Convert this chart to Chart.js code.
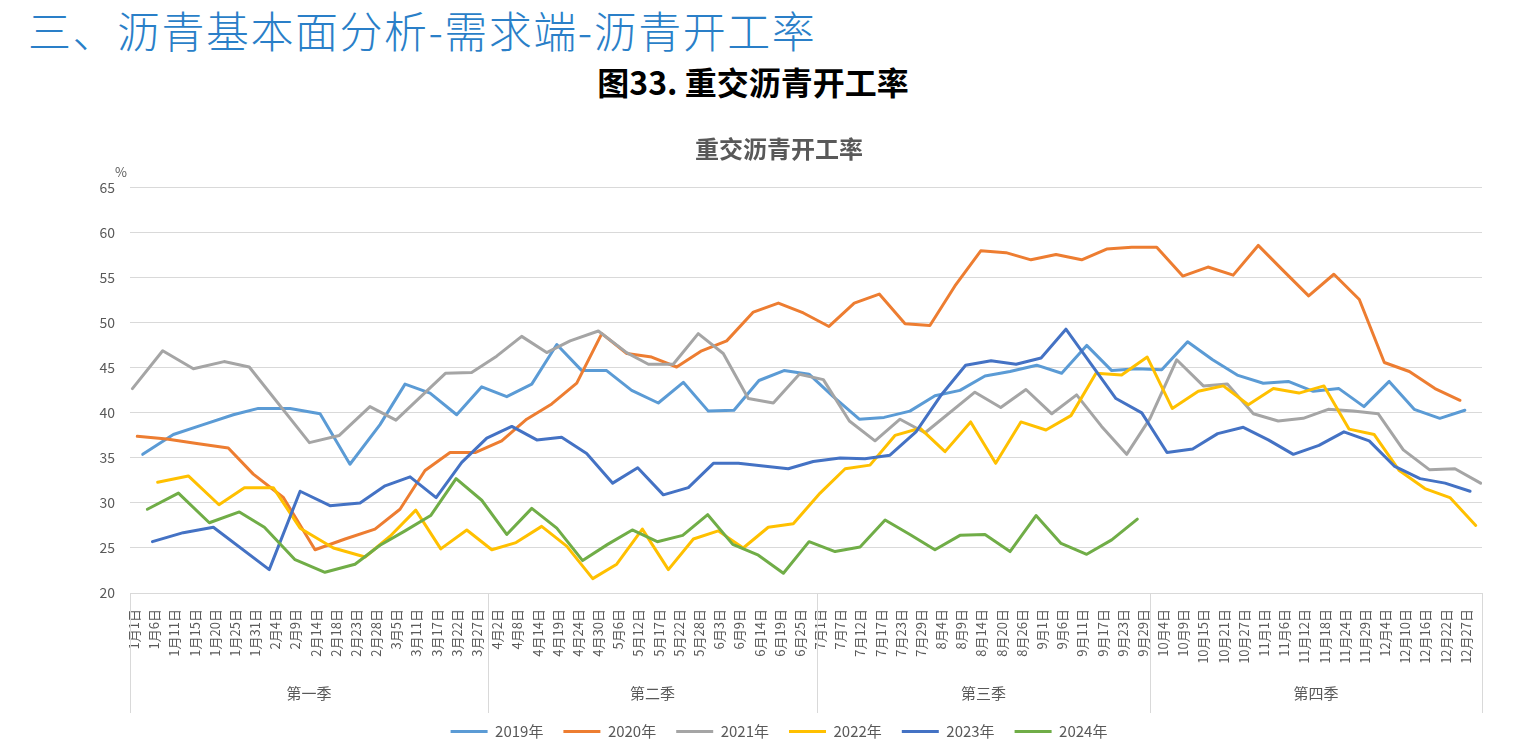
<!DOCTYPE html>
<html>
<head>
<meta charset="utf-8">
<script src="https://cdn.jsdelivr.net/npm/chart.js@4.4.0/dist/chart.umd.min.js"></script>
<style>
  body { margin: 0; background: #fff; width: 1519px; height: 749px; overflow: hidden; position: relative; font-family: 'Noto Sans CJK SC', 'Noto Sans', sans-serif; }
  #pageTitle { position: absolute; left: 28px; top: 8px; margin: 0; font-size: 43px; letter-spacing: 1.5px; line-height: 1; font-weight: 300; color: #2a7fc8; white-space: nowrap; }
  #figTitle { position: absolute; left: 0; width: 1506px; top: 65px; margin: 0; text-align: center; font-size: 32px; line-height: 1; font-weight: bold; color: #000; white-space: nowrap; }
  #wrap { position: absolute; left: 0; top: 120px; width: 1519px; height: 629px; }
</style>
</head>
<body>
<h1 id="pageTitle">三、沥青基本面分析-需求端-沥青开工率</h1>
<h2 id="figTitle">图33. 重交沥青开工率</h2>
<div id="wrap"><canvas id="asphaltChart"></canvas></div>
<script>
// tick labels of the date axis (one per label slot)
const dateLabels = ["1月1日","1月6日","1月11日","1月15日","1月20日","1月25日","1月31日","2月4日","2月9日","2月14日","2月18日","2月23日","2月28日","3月5日","3月11日","3月17日","3月22日","3月27日",
  "4月2日","4月8日","4月14日","4月19日","4月24日","4月30日","5月6日","5月12日","5月17日","5月22日","5月28日","6月3日","6月9日","6月14日","6月19日","6月25日",
  "7月1日","7月7日","7月12日","7月17日","7月23日","7月29日","8月4日","8月9日","8月14日","8月20日","8月26日","9月1日","9月6日","9月11日","9月17日","9月23日","9月29日",
  "10月4日","10月9日","10月15日","10月21日","10月27日","11月1日","11月6日","11月12日","11月18日","11月24日","11月29日","12月4日","12月10日","12月16日","12月22日","12月27日"];
const quarterNames = ["第一季","第二季","第三季","第四季"];
const quarterBreaks = [17.54, 33.85, 50.35];

const years = ["2019年","2020年","2021年","2022年","2023年","2024年"];
const colors = ["#5b9bd5","#ed7d31","#a5a5a5","#ffc000","#4472c4","#70ad47"];

// x = position on the date axis (label slots), y = operating rate %
const x2019 = [0.43,1.95,3.43,4.92,6.16,7.73,9.22,10.70,12.19,13.43,14.67,15.99,17.23,18.47,19.71,20.95,22.19,23.42,24.66,25.98,27.22,28.46,29.73,30.97,32.21,33.45,34.65,35.94,37.17,38.45,39.69,40.93,42.17,43.41,44.73,45.97,47.21,48.45,49.69,50.93,52.21,53.45,54.67,55.96,57.20,58.44,59.71,60.95,62.20,63.44,64.71,65.95];
const y2019 = [35.4,37.6,38.7,39.8,40.5,40.5,39.9,34.3,38.7,43.2,42.2,39.8,42.9,41.8,43.2,47.6,44.7,44.7,42.5,41.1,43.4,40.2,40.3,43.6,44.7,44.3,41.8,39.3,39.5,40.2,41.9,42.5,44.1,44.6,45.3,44.4,47.5,44.7,44.9,44.8,47.9,45.9,44.2,43.3,43.5,42.4,42.7,40.7,43.5,40.4,39.4,40.3];

const x2020 = [0.16,1.62,3.11,4.67,5.91,7.40,8.97,10.46,11.94,13.18,14.42,15.66,16.90,18.22,19.46,20.70,21.94,23.18,24.42,25.65,26.89,28.13,29.37,30.69,31.93,33.17,34.44,35.69,36.93,38.21,39.44,40.68,41.96,43.21,44.45,45.69,46.96,48.20,49.44,50.68,51.97,53.22,54.47,55.71,56.95,58.21,59.46,60.72,61.96,63.20,64.47,65.71];
const y2020 = [37.4,37.1,36.6,36.1,33.2,30.6,24.8,26.0,27.1,29.3,33.6,35.6,35.6,36.9,39.3,41.0,43.3,48.8,46.6,46.2,45.1,46.9,48.0,51.2,52.2,51.1,49.6,52.2,53.2,49.9,49.7,54.1,58.0,57.8,57.0,57.6,57.0,58.2,58.4,58.4,55.2,56.2,55.3,58.6,55.8,53.0,55.4,52.6,45.6,44.6,42.7,41.4];

const x2021 = [-0.08,1.42,2.94,4.46,5.71,8.69,10.17,11.69,12.98,15.43,16.73,17.97,19.21,20.45,21.61,23.01,24.41,25.49,26.72,27.96,29.20,30.44,31.68,32.97,34.16,35.45,36.72,37.96,39.20,41.67,42.95,44.20,45.48,46.71,47.95,49.19,50.35,51.67,52.99,54.18,55.47,56.70,57.94,59.18,60.42,61.66,62.90,64.19,65.46,66.73];
const y2021 = [42.7,46.9,44.9,45.7,45.1,36.7,37.5,40.7,39.2,44.4,44.5,46.3,48.5,46.7,48.0,49.1,46.7,45.4,45.4,48.8,46.6,41.6,41.1,44.3,43.7,39.1,36.9,39.3,37.8,42.3,40.6,42.6,39.9,42.0,38.5,35.4,39.4,45.9,43.0,43.2,39.9,39.1,39.4,40.4,40.2,39.9,35.9,33.7,33.8,32.2];

const x2022 = [1.17,2.69,4.21,5.47,6.90,8.23,9.88,11.45,12.69,13.96,15.20,16.49,17.73,18.93,20.20,21.44,22.73,23.92,25.19,26.48,27.72,28.95,30.19,31.43,32.67,34.00,35.24,36.47,37.71,38.95,40.19,41.46,42.70,43.95,45.19,46.43,47.67,48.94,50.21,51.45,52.74,53.98,55.22,56.46,57.73,58.97,60.21,61.46,62.70,63.97,65.21,66.49];
const y2022 = [32.3,33.0,29.8,31.7,31.7,27.2,25.0,24.0,26.3,29.2,24.9,27.0,24.8,25.6,27.4,25.2,21.6,23.2,27.1,22.6,26.0,26.9,25.0,27.3,27.7,31.1,33.8,34.2,37.5,38.3,35.7,39.0,34.4,39.0,38.1,39.7,44.4,44.2,46.2,40.5,42.4,43.0,40.9,42.7,42.2,43.0,38.2,37.6,33.6,31.6,30.6,27.5];

const x2023 = [0.91,2.44,3.93,6.70,8.23,9.71,11.20,12.44,13.68,14.97,16.24,17.48,18.72,19.96,21.19,22.43,23.72,24.96,26.23,27.47,28.71,29.95,31.18,32.42,33.66,34.99,36.22,37.46,38.75,39.97,41.21,42.47,43.71,44.95,46.18,48.66,49.94,51.19,52.46,53.70,54.97,56.21,57.45,58.72,59.96,61.21,62.45,63.73,64.97,66.21];
const y2023 = [25.7,26.7,27.3,22.6,31.3,29.7,30.0,31.9,32.9,30.6,34.5,37.2,38.5,37.0,37.3,35.5,32.2,33.9,30.9,31.7,34.4,34.4,34.1,33.8,34.6,35.0,34.9,35.3,37.9,41.9,45.3,45.8,45.4,46.1,49.3,41.6,40.0,35.6,36.0,37.7,38.4,37.0,35.4,36.4,37.9,36.9,34.1,32.7,32.2,31.3];

const x2024 = [0.66,2.20,3.73,5.22,6.46,7.98,9.46,10.95,12.19,13.43,14.70,15.96,17.23,18.47,19.71,20.95,22.23,23.47,24.69,25.93,27.19,28.43,29.67,30.94,32.18,33.45,34.74,35.98,37.22,38.45,39.69,40.93,42.17,43.41,44.70,45.94,47.21,48.45,49.72];
const y2024 = [29.3,31.1,27.8,29.0,27.3,23.7,22.3,23.2,25.3,26.9,28.6,32.7,30.3,26.5,29.4,27.2,23.6,25.4,27.0,25.7,26.4,28.7,25.4,24.2,22.2,25.7,24.6,25.1,28.1,26.5,24.8,26.4,26.5,24.6,28.6,25.5,24.3,25.9,28.2];

const xs = [x2019, x2020, x2021, x2022, x2023, x2024];
const ys = [y2019, y2020, y2021, y2022, y2023, y2024];

const fontFamily = "'Noto Sans CJK SC', 'Noto Sans', sans-serif";
Chart.defaults.font.family = fontFamily;
Chart.defaults.color = "#595959";

// quarter grouping row under the date labels, plus the "%" unit
const quarterPlugin = {
    id: "quarters",
    afterDraw(chart){
        const {ctx, chartArea, scales} = chart;
        const x = scales.x;
        const edges = [chartArea.left, ...quarterBreaks.map(v => x.getPixelForValue(v)), chartArea.right];
        ctx.save();
        ctx.strokeStyle = "#d9d9d9";
        ctx.lineWidth = 1;
        edges.forEach(px => {
            const p = Math.round(px) + 0.5;
            ctx.beginPath();
            ctx.moveTo(p, chartArea.bottom);
            ctx.lineTo(p, chartArea.bottom + 120);
            ctx.stroke();
        });
        ctx.fillStyle = "#595959";
        ctx.textAlign = "center";
        ctx.textBaseline = "middle";
        ctx.font = "15px " + fontFamily;
        quarterNames.forEach((q, i) => {
            ctx.fillText(q, (edges[i] + edges[i+1]) / 2, chartArea.bottom + 100);
        });
        ctx.font = "13px " + fontFamily;
        ctx.fillText("%", chartArea.left - 9, chartArea.top - 16);
        ctx.restore();
    }
};

new Chart(document.getElementById("asphaltChart"), {
    type: "line",
    data: {
        datasets: years.map((name, i) => ({
            label: name,
            data: xs[i].map((p, j) => ({ x: p, y: ys[i][j] })),
            borderColor: colors[i],
            backgroundColor: colors[i],
            borderWidth: 3,
            borderJoinStyle: "round",
            borderCapStyle: "round",
            pointRadius: 0,
            pointHoverRadius: 0,
            tension: 0,
            fill: false,
            order: years.length - i
        }))
    },
    options: {
        responsive: true,
        maintainAspectRatio: false,
        animation: false,
        layout: { padding: { left: 76, right: 37, top: 0, bottom: 0 } },
        plugins: {
            title: {
                display: true,
                text: "重交沥青开工率",
                color: "#595959",
                font: { size: 24, weight: "bold" },
                padding: { top: 14, bottom: 25 }
            },
            legend: {
                position: "bottom",
                labels: {
                    usePointStyle: true,
                    pointStyle: "line",
                    pointStyleWidth: 37,
                    color: "#595959",
                    font: { size: 15 },
                    padding: 20,
                    sort: (a, b) => a.datasetIndex - b.datasetIndex
                }
            },
            tooltip: { enabled: false }
        },
        scales: {
            x: {
                type: "linear",
                min: -0.2,
                max: 66.8,
                afterBuildTicks: axis => { axis.ticks = dateLabels.map((_, i) => ({ value: i })); },
                afterFit: axis => { axis.height = 111; },
                grid: { display: false },
                border: { display: false },
                ticks: {
                    autoSkip: false,
                    minRotation: 90,
                    maxRotation: 90,
                    padding: 8,
                    color: "#595959",
                    font: { size: 13 },
                    callback: (v) => dateLabels[v] ?? ""
                }
            },
            y: {
                min: 20,
                max: 65,
                afterFit: axis => { axis.width = 54; },
                grid: { color: "#d9d9d9", drawTicks: false },
                border: { display: false },
                ticks: { stepSize: 5, padding: 15, color: "#595959", font: { size: 14 } }
            }
        }
    },
    plugins: [quarterPlugin]
});
</script>
</body>
</html>
